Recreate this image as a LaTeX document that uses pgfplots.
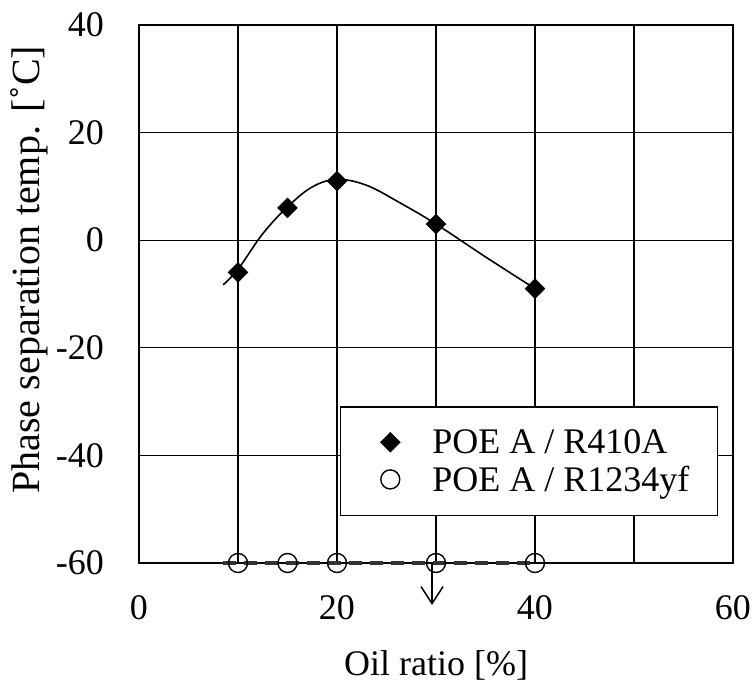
\documentclass[border=0pt]{standalone}
\usepackage{pgfplots}
\pgfplotsset{compat=1.18}
\usepackage{fontspec}
\setmainfont{Liberation Serif}
\usetikzlibrary{arrows.meta}
\begin{document}
\begin{tikzpicture}
\begin{axis}[
  at={(0,0)}, anchor=south west,
  scale only axis, width=594bp, height=538bp,
  xmin=0, xmax=60, ymin=-60, ymax=40,
  xtick={0,20,40,60}, ytick={-60,-40,-20,0,20,40},
  minor xtick={10,30,50},
  xmajorgrids, ymajorgrids, xminorgrids,
  major grid style={black, line width=1.3bp},
  minor grid style={black, line width=1.3bp},
  major tick length=0pt, minor tick length=0pt,
  axis line style={black, line width=1.8bp},
  /pgf/number format/assume math mode=true,
  tick label style={font=\fontsize{36bp}{40bp}\selectfont, inner sep=0pt},
  xticklabel style={anchor=north, yshift=-32bp},
  yticklabel style={anchor=east, xshift=-35bp},
  xlabel={Oil ratio [\%]},
  ylabel={Phase separation temp. [˚C]},
  xlabel style={at={(axis description cs:0.5,-0.2100)}, anchor=base, font=\fontsize{36bp}{40bp}\selectfont},
  ylabel style={at={(axis description cs:-0.1667,0.545)}, anchor=base, font=\fontsize{40bp}{44bp}\selectfont},
  clip=false,
  legend style={at={(0.9747,0.0874)}, anchor=south east, draw=black, line width=1.3bp, fill=white,
    font=\fontsize{36bp}{40bp}\selectfont, inner xsep=23bp, inner ysep=17bp,
    nodes={inner xsep=5bp, inner ysep=5.5bp}, row sep=0pt, column sep=0bp},
  legend cell align=left,
  legend image code/.code={\draw[white, line width=0.01bp] (0bp,0bp) -- (64bp,0bp); \draw[#1] plot coordinates {(27bp,0bp)};},
]
% fitted curve for POE A / R410A
\addplot[black, line width=1.6bp, smooth, tension=0.6, forget plot] coordinates {
 (8.5,-8.3) (10,-5.4) (12.5,1.2) (15,6.2) (17.5,9.9) (20,11.3)
 (23,10.2) (26.5,6.8) (30,3.0) (35,-3.1) (40,-9)};
% dashed line for R1234yf
\addplot[black!80, line width=3.5bp, dash pattern=on 13bp off 8bp, forget plot] coordinates {
 (8.5,-60) (40,-60)};
\addplot[only marks, mark=square*, mark size=7bp, mark options={rotate=45, fill=black, draw=black, line width=0.5bp}] coordinates {
 (10,-6) (15,6) (20,11) (30,3) (40,-9)};
\addlegendentry{POE A / R410A}
\addplot[only marks, mark=o, mark size=9.5bp, mark options={draw=black, line width=1.4bp}] coordinates {
 (10,-60) (15,-60) (20,-60) (30,-60) (40,-60)};
\addlegendentry{POE A / R1234yf}
\draw[line width=1.5bp, -{Straight Barb[length=17bp, width=22bp, line width=1.5bp]}] (axis cs:29.6,-60) -- (axis cs:29.6,-67.8);
\end{axis}
\pgfresetboundingbox
\path (-139bp,-120bp) rectangle (614bp,563bp);
\end{tikzpicture}
\end{document}
